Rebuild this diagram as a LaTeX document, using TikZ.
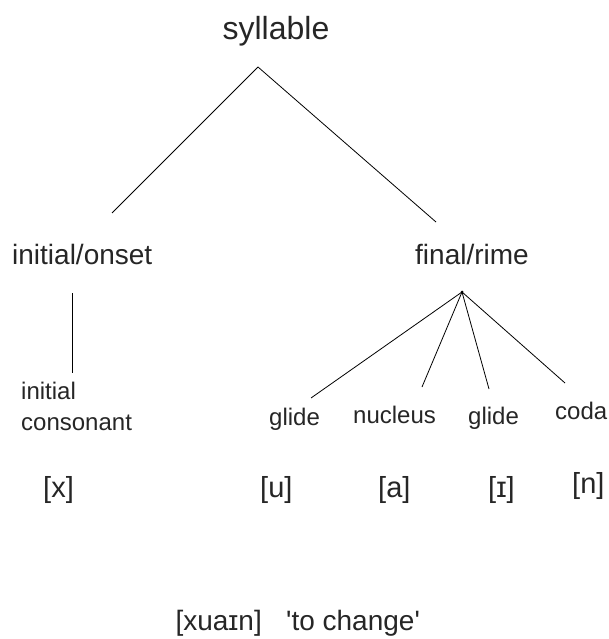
\documentclass[tikz,border=0pt]{standalone}
\usepackage{fontspec}
\setmainfont{Liberation Sans}[Ligatures=TeXOff]
\begin{document}
\begin{tikzpicture}[x=1pt,y=-1pt,
  lbl/.style={inner sep=0pt,anchor=base west,text=black!85},
  big/.style={lbl,font=\fontsize{32}{34}\selectfont},
  mid/.style={lbl,font=\fontsize{28}{30}\selectfont},
  sml/.style={lbl,font=\fontsize{24}{26}\selectfont},
  ipa/.style={lbl,font=\fontsize{29}{31}\selectfont},
  branch/.style={draw=black,line width=0.8pt}]
\useasboundingbox (0,0) rectangle (608,639);
\fill[white] (0,0) rectangle (608,639);
% labels
\node[big,anchor=base] (syl) at (276,40) {syllable};
\node[mid] (onset) at (12,264) {initial/onset};
\node[mid] (rime) at (415,264) {final/rime};
\node[sml] (ini1) at (21,399) {initial};
\node[sml] (ini2) at (21,430) {consonant};
\node[sml] (gl1) at (269,425) {glide};
\node[sml] (nuc) at (353,423) {nucleus};
\node[sml] (gl2) at (468,424) {glide};
\node[sml] (coda) at (555,419) {coda};
\node[ipa] (sx) at (43,497) {[x]};
\node[ipa] (su) at (260,497) {[u]};
\node[ipa] (sa) at (378,497) {[a]};
\node[ipa] (si) at (488,497) {[ɪ]};
\node[ipa] (sn) at (572,493) {[n]};
\node[mid,anchor=base east] (word) at (262,630) {[xuaɪn]};
\node[mid] (gloss) at (286,630) {'to change'};
% joints
\coordinate (sylJ) at (258,67);
\coordinate (onsetT) at (112,213);
\coordinate (rimeT) at (436,222);
\coordinate (onsetB) at (72,293);
\coordinate (iniT) at (72,373);
\coordinate (rimeJ) at (462,292);
\coordinate (gl1T) at (311,398);
\coordinate (nucT) at (422,387);
\coordinate (gl2T) at (489,389);
\coordinate (codaT) at (565,383);
% branches
\draw[branch] (sylJ) -- (onsetT);
\draw[branch] (sylJ) -- (rimeT);
\draw[branch] (onsetB) -- (iniT);
\draw[branch] (rimeJ) -- (gl1T);
\draw[branch] (rimeJ) -- (nucT);
\draw[branch] (rimeJ) -- (gl2T);
\draw[branch] (rimeJ) -- (codaT);
\fill (rimeJ) circle (1.5);
\end{tikzpicture}
\end{document}
